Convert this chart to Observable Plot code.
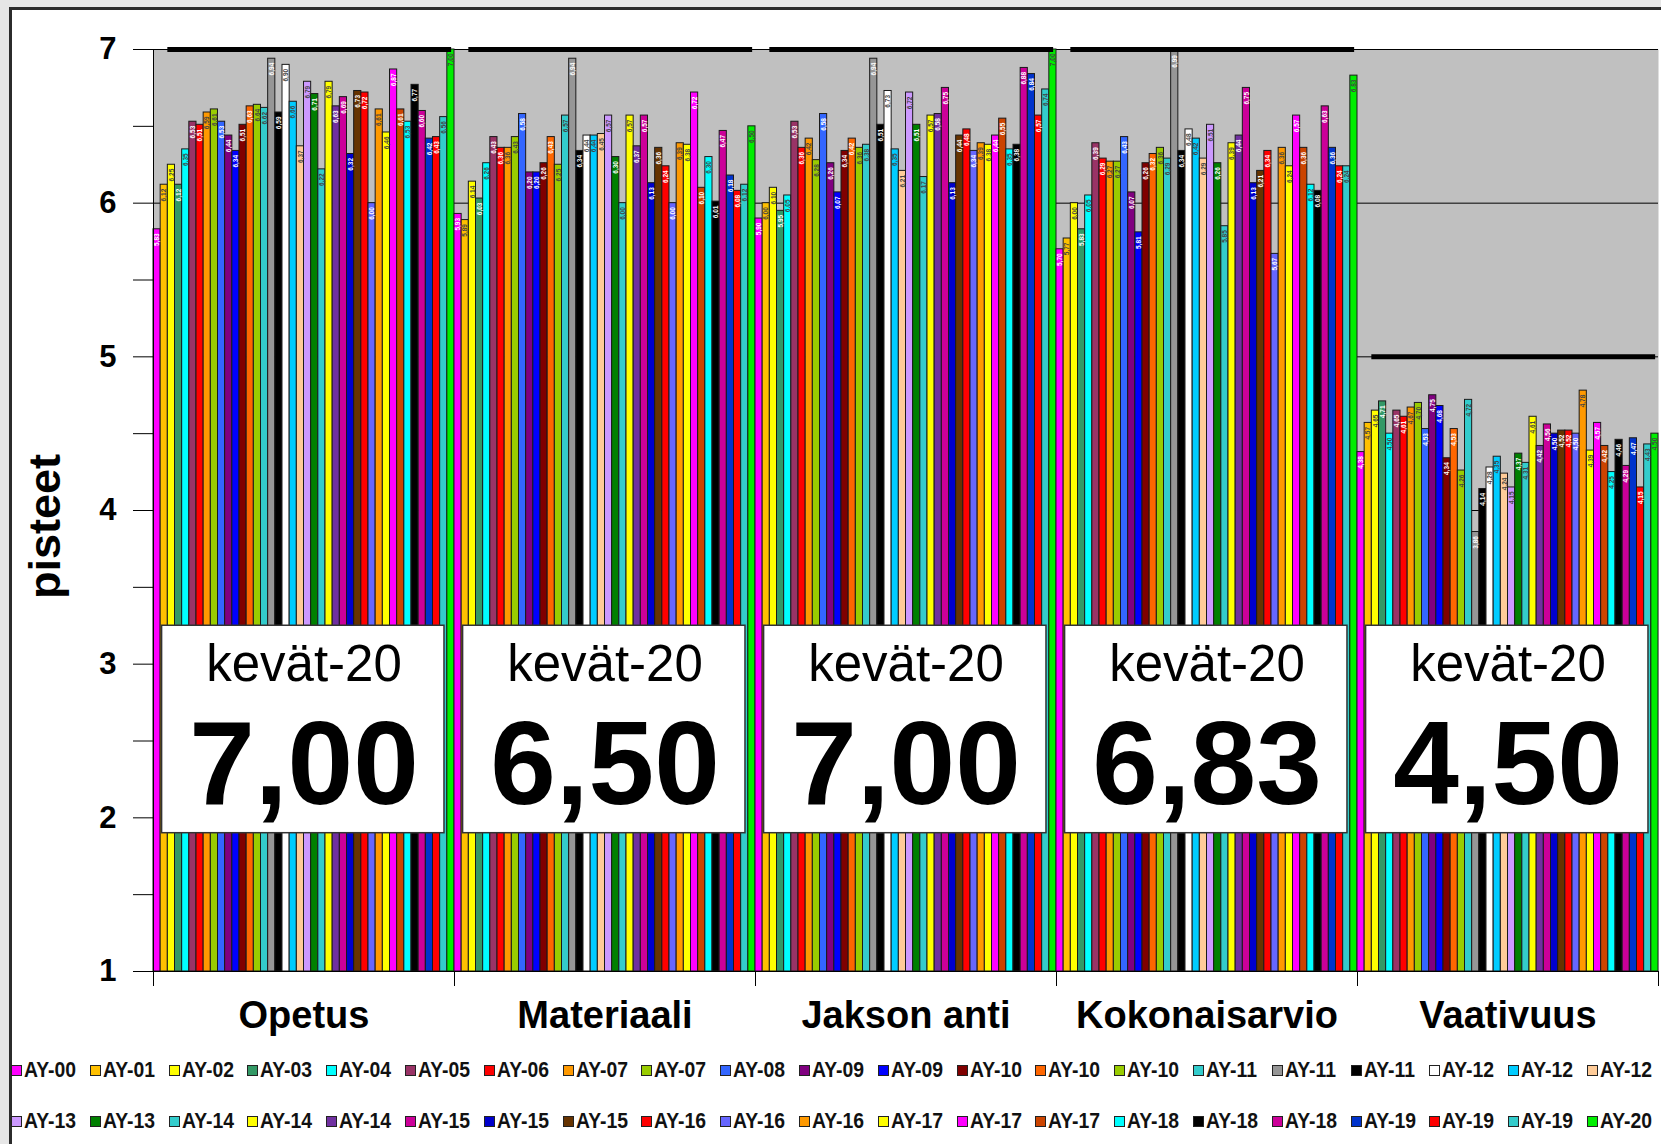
<!DOCTYPE html>
<html><head><meta charset="utf-8">
<script src="https://cdn.jsdelivr.net/npm/d3@7"></script>
<script src="https://cdn.jsdelivr.net/npm/@observablehq/plot@0.6"></script>
<style>
html,body{margin:0;padding:0;width:1661px;height:1144px;overflow:hidden;background:#e6e6e6;font-family:"Liberation Sans",Arial,sans-serif;}
#frame{position:absolute;left:9px;top:7px;width:1700px;height:1200px;background:#fff;border-left:3px solid #2b2b2b;border-top:3px solid #2b2b2b;}
#chart{position:absolute;left:0;top:0;}
#legend{position:absolute;left:0;top:0;width:1661px;height:1144px;}
.row{position:absolute;left:0;height:24px;white-space:nowrap;}
.item{position:absolute;top:0;display:flex;align-items:center;height:24px;}
.sw{width:9px;height:9px;border:1px solid #222;margin-right:2px;flex:none;}
.lbl{font-size:22px;font-weight:bold;color:#111;display:inline-block;transform:scaleX(0.88);transform-origin:left center;}
</style></head><body>
<div id="frame"></div><div id="chart"></div><div id="legend"></div>
<script>
const categories = ["Opetus","Materiaali","Jakson anti","Kokonaisarvio","Vaativuus"];
const seriesNames = ["AY-00","AY-01","AY-02","AY-03","AY-04","AY-05","AY-06","AY-07","AY-07","AY-08",
  "AY-09","AY-09","AY-10","AY-10","AY-10","AY-11","AY-11","AY-11","AY-12","AY-12","AY-12",
  "AY-13","AY-13","AY-14","AY-14","AY-14","AY-15","AY-15","AY-15","AY-16","AY-16","AY-16",
  "AY-17","AY-17","AY-17","AY-18","AY-18","AY-18","AY-19","AY-19","AY-19","AY-20"];
const seriesColors = ["#ff00ff","#ffc000","#ffff00","#339966","#00ffff","#993366","#ff0000","#ff9900","#99cc00","#3366ff",
  "#800080","#0000ff","#800000","#ff6600","#99cc00","#33cccc","#969696","#000000","#ffffff","#00ccff","#ffcc99",
  "#cc99ff","#008000","#33cccc","#ffff00","#7030a0","#cc0099","#0000cc","#663300","#ff0000","#6666ff","#ff9900",
  "#ffff00","#ff00ff","#cc4400","#00ffff","#000000","#cc0099","#0033cc","#ff0000","#33cccc","#00ee00"];
const opetus = [5.83,6.12,6.25,6.12,6.35,6.53,6.51,6.59,6.61,6.53,6.44,6.34,6.51,6.63,6.64,6.62,6.94,6.59,6.90,6.66,6.37,
  6.79,6.71,6.22,6.79,6.63,6.69,6.32,6.73,6.72,6.00,6.61,6.46,6.87,6.61,6.53,6.77,6.60,6.42,6.43,6.56,7.00];
const materiaali = [5.93,5.89,6.14,6.03,6.26,6.43,6.36,6.36,6.43,6.58,6.20,6.20,6.26,6.43,6.25,6.57,6.94,6.34,6.44,6.44,6.45,
  6.57,6.30,6.00,6.57,6.37,6.57,6.13,6.36,6.24,6.00,6.39,6.38,6.72,6.10,6.30,6.01,6.47,6.18,6.08,6.12,6.50];
const jaksonAnti = [5.90,6.00,6.10,5.95,6.05,6.53,6.36,6.42,6.28,6.58,6.26,6.07,6.34,6.42,6.36,6.38,6.94,6.51,6.73,6.35,6.21,
  6.72,6.51,6.17,6.57,6.58,6.75,6.13,6.44,6.48,6.34,6.39,6.38,6.44,6.55,6.35,6.38,6.88,6.84,6.57,6.74,7.00];
const kokonaisarvio = [5.70,5.77,6.00,5.83,6.05,6.39,6.29,6.27,6.27,6.43,6.07,5.81,6.26,6.32,6.36,6.29,6.99,6.34,6.48,6.42,6.29,
  6.51,6.26,5.85,6.39,6.44,6.75,6.13,6.21,6.34,5.67,6.36,6.24,6.57,6.36,6.12,6.08,6.63,6.36,6.24,6.24,6.83];
const vaativuus = [4.38,4.57,4.65,4.71,4.50,4.65,4.61,4.67,4.70,4.53,4.75,4.68,4.34,4.53,4.26,4.72,3.86,4.14,4.28,4.35,4.24,
  4.15,4.37,4.31,4.61,4.42,4.56,4.50,4.52,4.52,4.50,4.78,4.39,4.57,4.42,4.25,4.46,4.29,4.47,4.15,4.43,4.50];
const groupValues = [opetus, materiaali, jaksonAnti, kokonaisarvio, vaativuus];
const targetLines = [7,7,7,7,5];
const yTicks = [1,2,3,4,5,6,7];
const yMinorTicks = [1.5,2.5,3.5,4.5,5.5,6.5];
const boxTitle = "kevät-20";
const yLabel = "pisteet";

const N = seriesNames.length;
const G = categories.length;
const fmt = v => d3.format(".2f")(v).replace(".", ",");
const table = [];
groupValues.forEach((vals, g) => vals.forEach((v, i) => table.push({g, i, value: v, color: seriesColors[i], name: seriesNames[i]})));
const groups = categories.map((c, g) => ({g, cat: c, target: targetLines[g], last: groupValues[g][N - 1]}));
const boundaries = d3.range(G + 1).map(g => g * N);

const W = 1661, H = 1045;
const plot = Plot.plot({
  width: W, height: H,
  marginTop: 49, marginBottom: H - 971, marginLeft: 153, marginRight: 3,
  x: {domain: [0, G * N], axis: null},
  y: {domain: [1, 7], axis: null},
  style: {fontFamily: "'Liberation Sans', Arial, sans-serif", background: "transparent", overflow: "visible", color: "#000"},
  marks: [
    Plot.frame({fill: "#c0c0c0", stroke: null}),
    Plot.ruleY(yTicks, {stroke: "#000", strokeWidth: 1}),
    Plot.rectY(table, {x1: d => d.g * N + d.i, x2: d => d.g * N + d.i + 1, y1: 1, y2: "value", fill: "color", stroke: "#1a1a1a", strokeWidth: 1}),
    Plot.text(table, {x: d => d.g * N + d.i + 0.5, y: "value", text: d => fmt(d.value), rotate: -90, textAnchor: "end", dy: 4,
      fontSize: 6.5, fontWeight: "bold", fill: d => d3.lab(d.color).l > 70 ? "#444" : "#fff"}),
    Plot.ruleY(groups, {y: "target", x1: d => d.g * N + 2, x2: d => d.g * N + 41.6, stroke: "#000", strokeWidth: 5}),
    Plot.rect(groups, {x1: d => d.g * N + 1.2, x2: d => d.g * N + 40.6, y1: 1.9, y2: 3.25, fill: "#fff", stroke: "#333", strokeWidth: 1.5}),
    Plot.text(groups, {x: d => d.g * N + N / 2, y: 2.893, text: () => boxTitle, fontSize: 51, lineAnchor: "bottom"}),
    Plot.text(groups, {x: d => d.g * N + N / 2, y: 2.09, text: d => fmt(d.last), fontSize: 118, fontWeight: "bold", lineAnchor: "bottom"}),
    Plot.axisY({ticks: yTicks, tickSize: 20, tickPadding: 17, tickFormat: d3.format("d"), fontSize: 31, fontWeight: "bold", label: null}),
    Plot.axisY({ticks: yMinorTicks, tickSize: 20, tickFormat: () => "", label: null}),
    Plot.ruleX([0], {stroke: "#000"}),
    Plot.ruleY([1], {stroke: "#000"}),
    Plot.axisX({ticks: boundaries, tickSize: 15, tickFormat: () => "", label: null}),
    Plot.text(groups, {x: d => d.g * N + N / 2, frameAnchor: "bottom", dy: 56, text: "cat", fontSize: 38, fontWeight: "bold"}),
    Plot.text([yLabel], {frameAnchor: "left", textAnchor: "middle", dx: -108, dy: 16, rotate: -90, fontSize: 45, fontWeight: "bold"})
  ]
});
document.getElementById("chart").appendChild(plot);

// legend
const legend = document.getElementById("legend");
const perRow = Math.ceil(N / 2);
[0, 1].forEach(r => {
  const row = document.createElement("div");
  row.className = "row";
  row.style.top = (r === 0 ? 1058 : 1109) + "px";
  seriesNames.slice(r * perRow, (r + 1) * perRow).forEach((name, k) => {
    const i = r * perRow + k;
    const it = document.createElement("div");
    it.className = "item";
    it.style.left = (11 + k * 78.8) + "px";
    it.innerHTML = `<span class="sw" style="background:${seriesColors[i]}"></span><span class="lbl">${name}</span>`;
    row.appendChild(it);
  });
  legend.appendChild(row);
});
</script>
</body></html>
